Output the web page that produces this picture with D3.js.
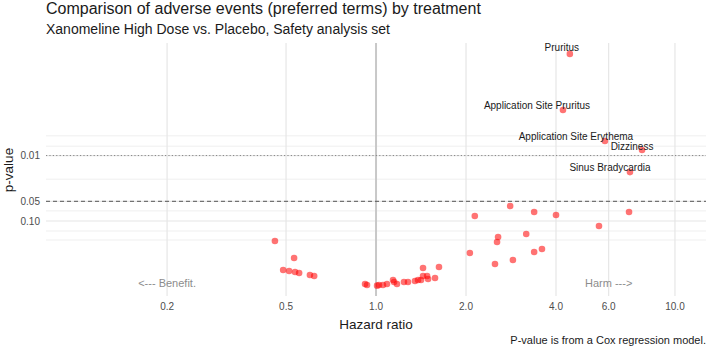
<!DOCTYPE html>
<html>
<head>
<meta charset="utf-8">
<script src="https://cdn.jsdelivr.net/npm/d3@7"></script>
<style>
  body { margin: 0; background: #fff; }
  svg { font-family: "Liberation Sans", Arial, sans-serif; }
</style>
</head>
<body>
<div id="volcano"></div>
<script>
// hazard ratio / p-value of each preferred term
var hazardRatios = [0.459, 0.532, 0.489, 0.512, 0.536, 0.553, 0.601, 0.621,
    0.919, 0.933, 1.008, 1.023, 1.055, 1.088, 1.140, 1.149, 1.175, 1.240, 1.279,
    1.350, 1.382, 1.414, 1.436, 1.436, 1.482, 1.493, 1.575, 1.624,
    2.06, 2.14, 2.81, 3.38, 4.00, 2.56, 2.54, 3.18, 2.50, 2.87, 3.38, 3.59, 7.02, 5.57];
var pValues = [0.202, 0.367, 0.560, 0.579, 0.601, 0.622, 0.667, 0.692,
    0.916, 0.948, 0.970, 0.948, 0.948, 0.916, 0.796, 0.853, 0.916, 0.853, 0.853,
    0.824, 0.796, 0.796, 0.523, 0.692, 0.692, 0.767, 0.741, 0.503,
    0.308, 0.084, 0.059, 0.073, 0.081, 0.175, 0.209, 0.158, 0.453, 0.393, 0.297, 0.267, 0.073, 0.119];

// labelled terms
var labelTerms = ["Pruritus", "Application Site Pruritus", "Application Site Erythema", "Dizziness", "Sinus Bradycardia"];
var labelHR = [4.45, 4.22, 5.83, 7.76, 7.07];
var labelP = [0.00028, 0.00202, 0.0060, 0.00824, 0.0179];

var xTicks = [0.2, 0.5, 1.0, 2.0, 4.0, 6.0, 10.0];
var yTicks = [0.01, 0.05, 0.10];
var yMinor = [0.005, 0.0072, 0.023, 0.070, 0.142, 0.195];

function drawVolcano() {
    var width = 708;
    var height = 348;
    var left = 46, right = 706, top = 43, bottom = 296;

    var svg = d3.select("#volcano")
        .append("svg")
        .attr("width", width)
        .attr("height", height);

    var x = d3.scaleLog()
        .domain([0.0787, 12.7])
        .range([left, right]);

    var y = d3.scaleLog()
        .domain([1.397, 0.000191])
        .range([bottom, top]);

    // grid
    svg.append("g").selectAll("line")
        .data(yMinor)
        .join("line")
        .attr("x1", left).attr("x2", right)
        .attr("y1", d => y(d)).attr("y2", d => y(d))
        .attr("stroke", "#ebebeb").attr("stroke-width", 0.8);

    svg.append("g").selectAll("line")
        .data(yTicks)
        .join("line")
        .attr("x1", left).attr("x2", right)
        .attr("y1", d => y(d)).attr("y2", d => y(d))
        .attr("stroke", "#e6e6e6").attr("stroke-width", 1.2);

    svg.append("g").selectAll("line")
        .data(xTicks)
        .join("line")
        .attr("x1", d => x(d)).attr("x2", d => x(d))
        .attr("y1", top).attr("y2", bottom)
        .attr("stroke", "#e6e6e6").attr("stroke-width", 1.2);

    // reference lines
    svg.append("line")
        .attr("x1", x(1)).attr("x2", x(1))
        .attr("y1", top).attr("y2", bottom)
        .attr("stroke", "#c8c8c8").attr("stroke-width", 2);

    svg.append("line")
        .attr("x1", left).attr("x2", right)
        .attr("y1", y(0.01)).attr("y2", y(0.01))
        .attr("stroke", "#888").attr("stroke-width", 1)
        .attr("stroke-dasharray", "1.2,2.2");

    svg.append("line")
        .attr("x1", left).attr("x2", right)
        .attr("y1", y(0.05)).attr("y2", y(0.05))
        .attr("stroke", "#555").attr("stroke-width", 1)
        .attr("stroke-dasharray", "4,3");

    // axes labels
    svg.append("g").selectAll("text")
        .data(xTicks)
        .join("text")
        .attr("x", d => x(d))
        .attr("y", 310)
        .attr("text-anchor", "middle")
        .attr("font-size", "10px")
        .attr("fill", "#4d4d4d")
        .text(d => d3.format(".1f")(d));

    svg.append("g").selectAll("text")
        .data(yTicks)
        .join("text")
        .attr("x", 40)
        .attr("y", d => y(d) + 3.5)
        .attr("text-anchor", "end")
        .attr("font-size", "10px")
        .attr("fill", "#4d4d4d")
        .text(d => d3.format(".2f")(d));

    svg.append("text")
        .attr("x", x(1))
        .attr("y", 329)
        .attr("text-anchor", "middle")
        .attr("font-size", "13.5px")
        .attr("fill", "#1a1a1a")
        .text("Hazard ratio");

    svg.append("text")
        .attr("transform", "translate(13," + 170 + ") rotate(-90)")
        .attr("text-anchor", "middle")
        .attr("font-size", "13.5px")
        .attr("fill", "#1a1a1a")
        .text("p-value");

    // benefit / harm hints
    svg.append("text")
        .attr("x", x(0.2)).attr("y", y(0.88) + 4)
        .attr("text-anchor", "middle")
        .attr("font-size", "11px")
        .attr("fill", "#8c8c8c")
        .text("<--- Benefit.");

    svg.append("text")
        .attr("x", x(6)).attr("y", y(0.88) + 4)
        .attr("text-anchor", "middle")
        .attr("font-size", "11px")
        .attr("fill", "#8c8c8c")
        .text("Harm --->");

    // points
    var pts = hazardRatios.map((h, i) => ({hr: h, p: pValues[i]}));
    var lab = labelTerms.map((t, i) => ({term: t, hr: labelHR[i], p: labelP[i]}));

    svg.append("g").selectAll("circle")
        .data(pts.concat(lab))
        .join("circle")
        .attr("cx", d => x(d.hr))
        .attr("cy", d => y(d.p))
        .attr("r", 3.3)
        .attr("fill", "red")
        .attr("opacity", 0.55);

    // label nudges (text centre relative to the point)
    var nudge = [[-8, -6], [-26, -5], [-29, -5], [-10, -4], [-20, -5]];

    svg.append("g").selectAll("text")
        .data(lab)
        .join("text")
        .attr("x", (d, i) => x(d.hr) + nudge[i][0])
        .attr("y", (d, i) => y(d.p) + nudge[i][1] + 3.5)
        .attr("text-anchor", "middle")
        .attr("font-size", "10px")
        .attr("fill", "#1a1a1a")
        .text(d => d.term);

    // titles
    svg.append("text")
        .attr("x", left).attr("y", 14)
        .attr("font-size", "16px")
        .attr("fill", "#1a1a1a")
        .text("Comparison of adverse events (preferred terms) by treatment");

    svg.append("text")
        .attr("x", left).attr("y", 34)
        .attr("font-size", "14px")
        .attr("fill", "#1a1a1a")
        .text("Xanomeline High Dose vs. Placebo, Safety analysis set");

    svg.append("text")
        .attr("x", 706).attr("y", 344)
        .attr("text-anchor", "end")
        .attr("font-size", "11px")
        .attr("fill", "#1a1a1a")
        .text("P-value is from a Cox regression model.");
}

drawVolcano();
</script>
</body>
</html>
